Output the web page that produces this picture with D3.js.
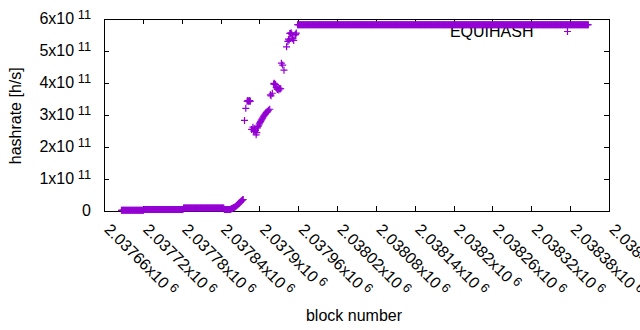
<!DOCTYPE html>
<html>
<head>
<meta charset="utf-8">
<script src="https://cdn.jsdelivr.net/npm/d3@7"></script>
<style>
  html, body { margin: 0; padding: 0; background: #fff; }
  svg { display: block; }
  text { font-family: "Liberation Sans", Arial, sans-serif; fill: #000; }
</style>
</head>
<body>
<svg id="chart" width="640" height="330"></svg>
<script>
// ---- data (hashrate in units of 1e11 h/s) ----
// constant runs of consecutive blocks
const runStart = [2037687, 2037722, 2037783, 2037846, 2037959];
const runEnd   = [2037721, 2037782, 2037845, 2037854, 2038408];
const runValue = [0.02, 0.05, 0.09, 0.045, 5.82];

// individual points (ramp and transition)
const pointBlocks = [
  2037855, 2037856, 2037857, 2037858, 2037859, 2037860, 2037861, 2037862, 2037863, 2037864,
  2037865, 2037866, 2037867, 2037868, 2037869, 2037870, 2037871, 2037872, 2037873, 2037874,
  2037875,
  2037877, 2037879, 2037881, 2037882, 2037883, 2037884, 2037885, 2037886,
  2037888, 2037890, 2037891, 2037892, 2037893, 2037894, 2037895, 2037896, 2037897, 2037898,
  2037899, 2037900, 2037901, 2037902, 2037903, 2037904, 2037905, 2037906, 2037907, 2037908,
  2037909, 2037910, 2037911, 2037912, 2037913, 2037914, 2037916,
  2037917, 2037918, 2037920, 2037922, 2037923, 2037924, 2037925, 2037926, 2037927, 2037928,
  2037929, 2037930, 2037931, 2037932, 2037933,
  2037934, 2037936, 2037938,
  2037942, 2037944, 2037945, 2037946, 2037947, 2037948, 2037949, 2037950, 2037951, 2037952,
  2037953, 2037955, 2037956, 2037957
];
const pointValues = [
  0.05, 0.06, 0.07, 0.08, 0.09, 0.10, 0.11, 0.12, 0.14, 0.15,
  0.17, 0.19, 0.21, 0.23, 0.25, 0.27, 0.29, 0.31, 0.33, 0.35,
  0.36,
  2.83, 3.21, 3.43, 3.45, 3.44, 3.42, 3.45, 3.43,
  2.55, 2.62, 2.50, 2.58, 2.48, 2.52, 2.38, 2.45, 2.60, 2.64,
  2.68, 2.72, 2.76, 2.80, 2.84, 2.87, 2.90, 2.94, 2.97, 3.00,
  3.03, 3.06, 3.08, 3.10, 3.12, 3.15, 3.18,
  3.63, 3.60, 3.68, 3.97, 3.99, 3.96, 3.95, 3.86, 3.82, 3.80,
  3.84, 3.78, 3.83, 3.82, 3.82,
  4.62, 4.56, 4.40,
  5.13, 5.30, 5.37, 5.34, 5.55, 5.55, 5.57, 5.52, 5.38, 5.40,
  5.33, 5.50, 5.52, 5.56
];

const xTicks = [2037660, 2037720, 2037780, 2037840, 2037900, 2037960, 2038020,
                2038080, 2038140, 2038200, 2038260, 2038320, 2038380, 2038440];
const xTickLabels = ["2.03766", "2.03772", "2.03778", "2.03784", "2.0379", "2.03796", "2.03802",
                     "2.03808", "2.03814", "2.0382", "2.03826", "2.03832", "2.03838", "2.03844"];
const xExponent = "6";
const yTicks = [0, 1, 2, 3, 4, 5, 6];
const yTickLabels = ["0", "1", "2", "3", "4", "5", "6"];
const yExponent = "11";
const seriesName = "EQUIHASH";
const xTitle = "block number";
const yTitle = "hashrate [h/s]";

// ---- build points ----
const data = [];
runStart.forEach((s, i) => {
  for (let b = s; b <= runEnd[i]; b++) data.push({ b: b, v: runValue[i] });
});
pointBlocks.forEach((b, i) => data.push({ b: b, v: pointValues[i] }));

// ---- layout ----
const L = 104, R = 609, T = 19, B = 211;
const color = "#9400D3";
const fs = 16, sup = 12.8;

const svg = d3.select("#chart");
const x = d3.scaleLinear().domain([2037660, 2038440]).range([L, R]);
const y = d3.scaleLinear().domain([0, 6]).range([B, T]);

// axes (ticks inward, mirrored)
const tick = 5;
svg.append("g").attr("transform", `translate(0,${B})`)
  .call(d3.axisBottom(x).tickValues(xTicks).tickSizeInner(-tick).tickSizeOuter(0).tickFormat(""))
  .call(g => g.select(".domain").remove());
svg.append("g").attr("transform", `translate(0,${T})`)
  .call(d3.axisTop(x).tickValues(xTicks).tickSizeInner(-tick).tickSizeOuter(0).tickFormat(""))
  .call(g => g.select(".domain").remove());
svg.append("g").attr("transform", `translate(${L},0)`)
  .call(d3.axisLeft(y).tickValues(yTicks).tickSizeInner(-tick).tickSizeOuter(0).tickFormat(""))
  .call(g => g.select(".domain").remove());
svg.append("g").attr("transform", `translate(${R},0)`)
  .call(d3.axisRight(y).tickValues(yTicks).tickSizeInner(-tick).tickSizeOuter(0).tickFormat(""))
  .call(g => g.select(".domain").remove());
svg.selectAll(".tick line").attr("stroke", "#000").attr("stroke-width", 1).attr("shape-rendering", "crispEdges");

// border
svg.append("rect").attr("x", L + 0.5).attr("y", T + 0.5)
  .attr("width", R - L - 1 + 1).attr("height", B - T)
  .attr("fill", "none").attr("stroke", "#000").attr("stroke-width", 1)
  .attr("shape-rendering", "crispEdges");

// y tick labels
yTicks.forEach((t, i) => {
  const txt = svg.append("text")
    .attr("x", 91).attr("y", y(t) + 5)
    .attr("text-anchor", "end")
    .style("font-size", fs + "px")
    .text(yTickLabels[i] === "0" ? "0" : yTickLabels[i] + "x10");
  if (yTickLabels[i] !== "0") {
    txt.append("tspan").attr("dy", -5).style("font-size", sup + "px").text("\u00a0" + yExponent);
  }
});

// x tick labels (rotated)
xTicks.forEach((t, i) => {
  const txt = svg.append("text")
    .attr("transform", `translate(${x(t) - 0.5},${B + 19.5}) rotate(45)`)
    .attr("text-anchor", "start")
    .style("font-size", fs + "px")
    .text(xTickLabels[i] + "x10");
  txt.append("tspan").attr("dy", -5).style("font-size", sup + "px").text("\u00a0" + xExponent);
});

// axis titles
svg.append("text").attr("x", 354).attr("y", 320.7).attr("text-anchor", "middle")
  .style("font-size", fs + "px").text(xTitle);
svg.append("text").attr("transform", `translate(21,115.8) rotate(-90)`).attr("text-anchor", "middle")
  .style("font-size", fs + "px").text(yTitle);

// legend
svg.append("text").attr("x", 533.5).attr("y", 37.3).attr("text-anchor", "end")
  .style("font-size", fs + "px").text(seriesName);
const cross = "M-3.5,0H3.5M0,-3.5V3.5";
svg.append("path").attr("d", cross).attr("transform", "translate(567.5,31.5)")
  .attr("fill", "none").attr("stroke", color).attr("stroke-width", 1.2);

// points
svg.append("g").selectAll("path").data(data).join("path")
  .attr("d", cross)
  .attr("transform", d => `translate(${x(d.b)},${y(d.v)})`)
  .attr("fill", "none").attr("stroke", color).attr("stroke-width", 1.2);
</script>
</body>
</html>
